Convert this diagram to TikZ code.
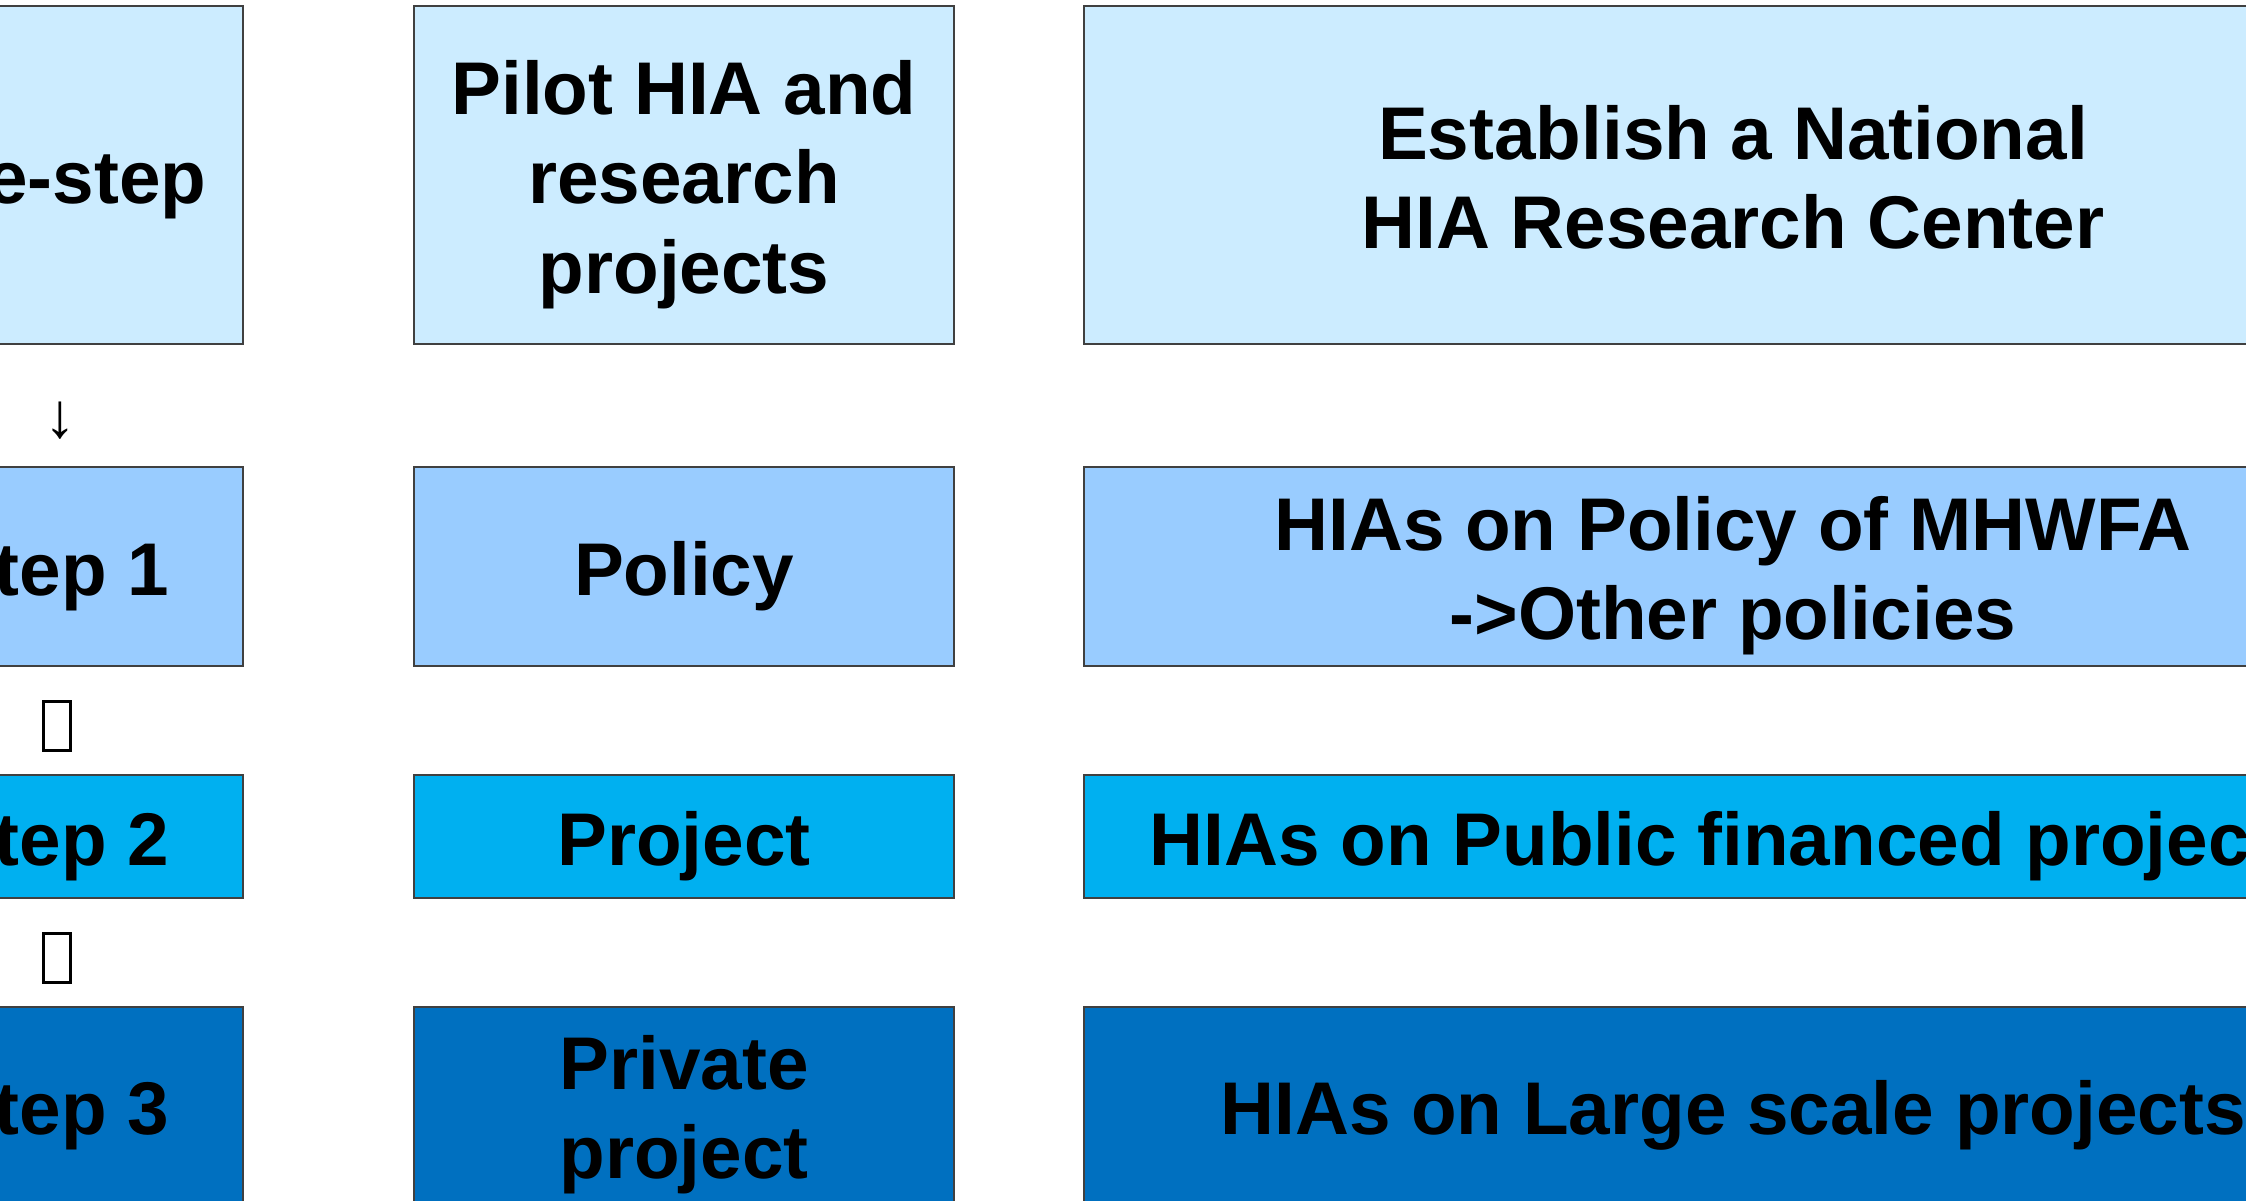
\documentclass[tikz,border=0pt]{standalone}
\usepackage{fontspec}
\setmainfont{Liberation Sans}

\definecolor{rowpre}{HTML}{CCECFF}
\definecolor{rowone}{HTML}{99CCFF}
\definecolor{rowtwo}{HTML}{00B0F0}
\definecolor{rowthree}{HTML}{0070C0}

% box text, set a little low in its box
\newcommand{\boxtext}[1]{\raisebox{-0.11cm}[\height][\depth]{\begin{tabular}{@{}c@{}}#1\end{tabular}}}

\tikzset{
  stepbox/.style={draw=black!75, line width=0.5pt, inner sep=0pt,
    font=\bfseries\fontsize{21.25}{25.4}\selectfont},
  tofu/.style={draw, line width=0.85pt, inner sep=0pt, minimum width=0.27cm, minimum height=0.49cm}
}

\begin{document}
\begin{tikzpicture}
\useasboundingbox (0,0) rectangle (22.46,12.01);
\clip (0,0) rectangle (22.46,12.01);

% pre-step row
\node[stepbox, fill=rowpre, minimum width=3.72cm, minimum height=3.38cm] (pre) at (0.57,10.26) {\boxtext{Pre-step}};
\node[stepbox, fill=rowpre, minimum width=5.40cm, minimum height=3.38cm] (pilot) at (6.84,10.26) {\boxtext{Pilot HIA and\\research\\projects}};
\node[stepbox, fill=rowpre, minimum width=12.98cm, minimum height=3.38cm] (center) at (17.33,10.26) {\boxtext{Establish a National\\HIA Research Center}};

\node[font=\fontsize{18}{21}\selectfont] (arrowa) at (0.60,7.80) {↓};

% step 1
\node[stepbox, fill=rowone, minimum width=3.72cm, minimum height=1.99cm] (stepa) at (0.57,6.345) {\boxtext{Step 1}};
\node[stepbox, fill=rowone, minimum width=5.40cm, minimum height=1.99cm] (policy) at (6.84,6.345) {\boxtext{Policy}};
\node[stepbox, fill=rowone, minimum width=12.98cm, minimum height=1.99cm] (policyhia) at (17.33,6.345) {\boxtext{HIAs on Policy of MHWFA\\->Other policies}};

\node[tofu] (gapb) at (0.57,4.75) {};

% step 2
\node[stepbox, fill=rowtwo, minimum width=3.72cm, minimum height=1.23cm] (stepb) at (0.57,3.645) {\boxtext{Step 2}};
\node[stepbox, fill=rowtwo, minimum width=5.40cm, minimum height=1.23cm] (project) at (6.84,3.645) {\boxtext{Project}};
\node[stepbox, fill=rowtwo, minimum width=12.98cm, minimum height=1.23cm] (projecthia) at (17.33,3.645) {\boxtext{HIAs on Public financed projects}};

\node[tofu] (gapc) at (0.57,2.43) {};

% step 3
\node[stepbox, fill=rowthree, minimum width=3.72cm, minimum height=1.97cm] (stepc) at (0.57,0.955) {\boxtext{Step 3}};
\node[stepbox, fill=rowthree, minimum width=5.40cm, minimum height=1.97cm] (private) at (6.84,0.955) {\boxtext{Private\\project}};
\node[stepbox, fill=rowthree, minimum width=12.98cm, minimum height=1.97cm] (largehia) at (17.33,0.955) {\boxtext{HIAs on Large scale projects}};

\end{tikzpicture}
\end{document}
